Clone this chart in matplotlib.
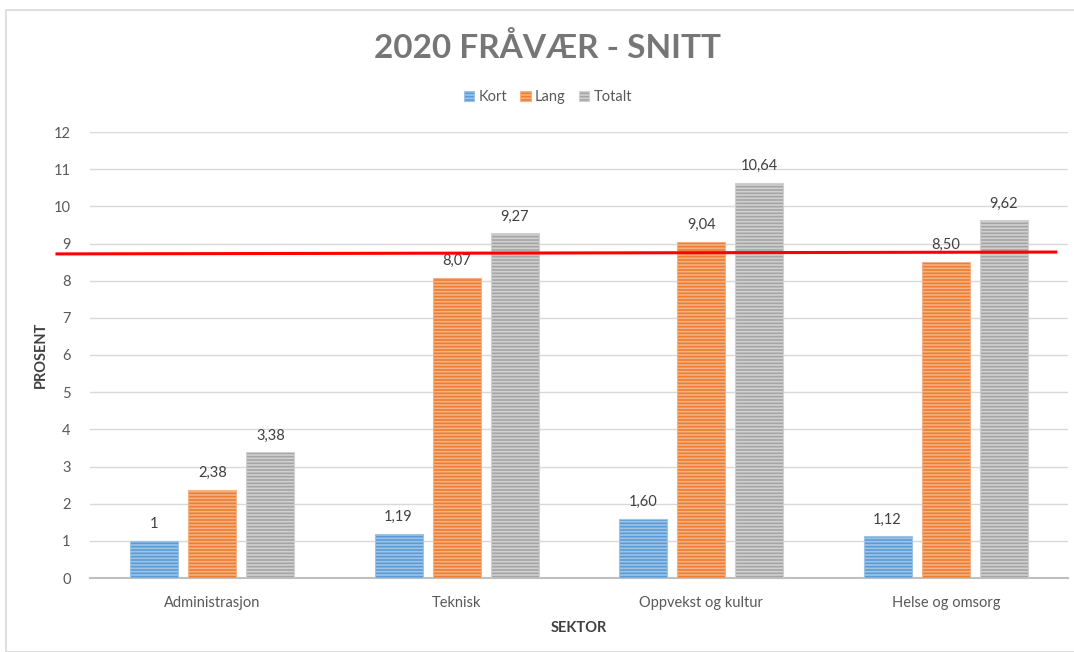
import matplotlib
matplotlib.use("Agg")
import matplotlib.pyplot as plt
import numpy as np
from matplotlib.patches import Rectangle

categories = ["Administrasjon", "Teknisk", "Oppvekst og kultur", "Helse og omsorg"]
series_names = ["Kort", "Lang", "Totalt"]
kort = [1.00, 1.19, 1.60, 1.12]
lang = [2.38, 8.07, 9.04, 8.50]
totalt = [3.38, 9.27, 10.64, 9.62]
kort_labels = ["1", "1,19", "1,60", "1,12"]
lang_labels = ["2,38", "8,07", "9,04", "8,50"]
totalt_labels = ["3,38", "9,27", "10,64", "9,62"]
yticks = list(range(0, 13))
# hand-drawn average line (start/end)
snitt_x = [-0.635, 3.45]
snitt_y = [8.72, 8.77]

colors = ["#5B9BD5", "#ED7D31", "#A5A5A5"]
light = ["#9DC3E6", "#F4B183", "#D0D0D0"]
font = ["Lato", "DejaVu Sans"]
plt.rcParams['font.family'] = font
plt.rcParams['hatch.linewidth'] = 1.2

fig = plt.figure(figsize=(10.74, 6.52), dpi=100)
ax = fig.add_axes([90/1074, 1-578/652, (1068-90)/1074, (578-132)/652])

# chart border
fig.patches.append(Rectangle((6/1074, 0), 1.1, 1-10/652, transform=fig.transFigure,
                             fill=False, edgecolor="#D9D9D9", linewidth=1.2))

x = np.arange(len(categories))
w = 0.196
off = 0.238
data = [kort, lang, totalt]
labels = [kort_labels, lang_labels, totalt_labels]
for i, (vals, labs) in enumerate(zip(data, labels)):
    pos = x + (i - 1) * off
    ax.bar(pos, vals, width=w, color=colors[i], edgecolor=light[i],
           hatch="-----", linewidth=0.8, label=series_names[i], zorder=3)
    for p, v, t in zip(pos, vals, labs):
        ax.annotate(t, (p, v), xytext=(0, 7), textcoords="offset points",
                    ha="center", va="bottom", fontsize=10.5, color="#404040")

ax.set_xlim(-0.5, 3.5)
ax.set_ylim(0, 12)
ax.set_yticks(yticks)
ax.set_xticks(x)
ax.set_xticklabels(categories)
ax.grid(axis="y", color="#D9D9D9", linewidth=1, zorder=0)
ax.set_axisbelow(True)
for s in ["top", "right", "left"]:
    ax.spines[s].set_visible(False)
ax.spines["bottom"].set_color("#BFBFBF")
ax.spines["bottom"].set_linewidth(1.5)
ax.tick_params(axis="both", length=0, labelsize=10.5, colors="#595959")
ax.tick_params(axis="y", pad=14)
ax.tick_params(axis="x", pad=13)

ax.set_ylabel("PROSENT", fontsize=10.5, fontweight="bold", color="#404040", labelpad=4)
ax.set_xlabel("SEKTOR", fontsize=10.5, fontweight="bold", color="#404040", labelpad=8)

ax.plot(snitt_x, snitt_y, color="#FF0000", linewidth=2.2, clip_on=False, zorder=5)

fig.text(548/1074, 1-47/652, "2020 FRÅVÆR - SNITT", ha="center", va="center",
         fontsize=24, fontweight="bold", color="#767676")
fig.legend(loc="center", bbox_to_anchor=(548/1074, 1-97/652), ncol=3, frameon=False,
           fontsize=10.5, handlelength=0.7, handleheight=0.7, handletextpad=0.3,
           columnspacing=0.9, labelcolor="#595959")

fig.savefig("out.png", dpi=100)
